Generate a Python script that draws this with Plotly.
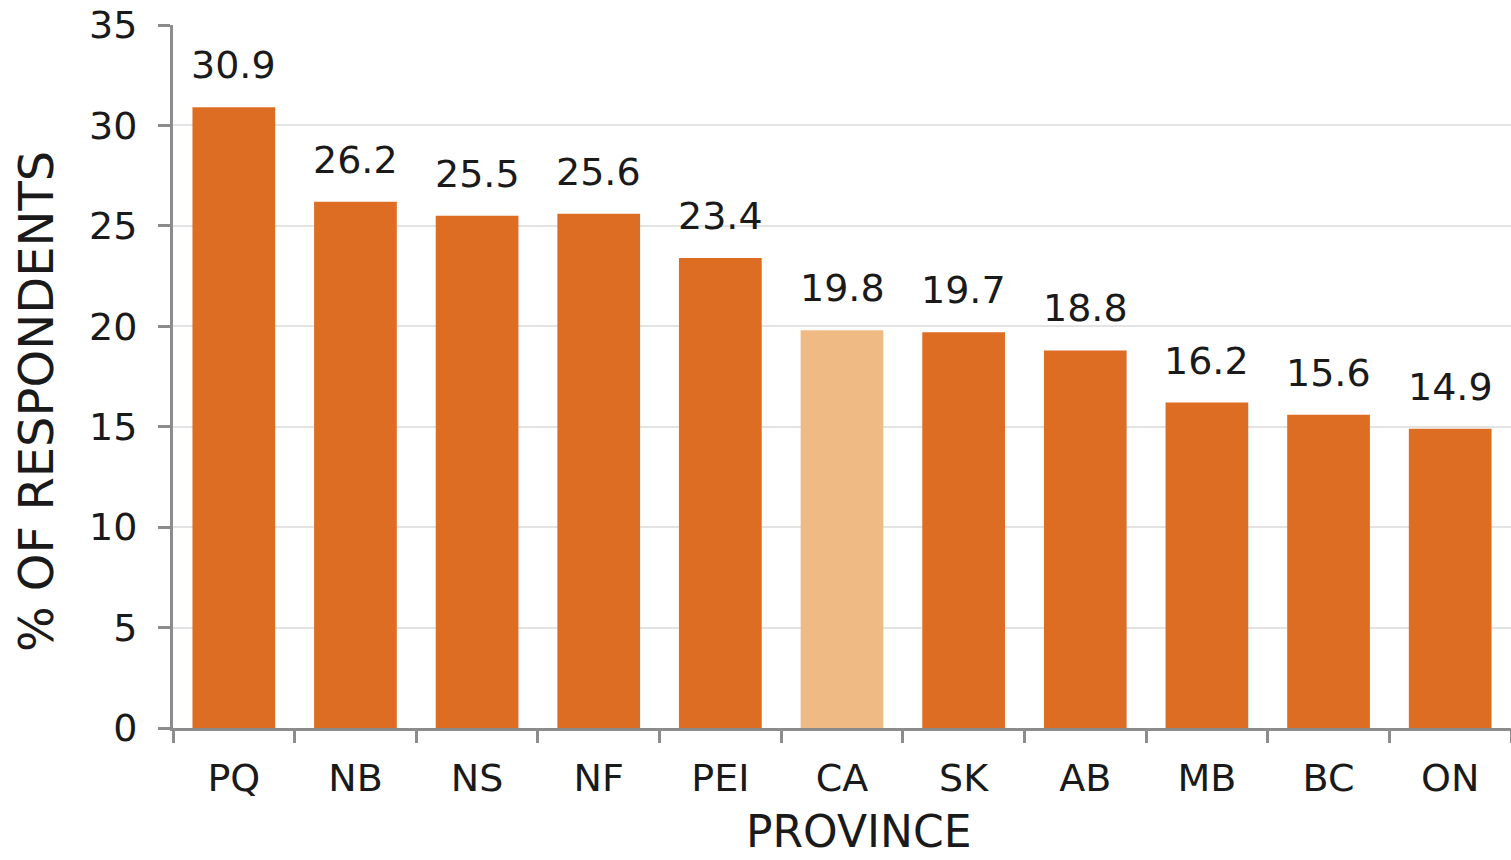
import plotly.graph_objects as go

provinces = ["PQ", "NB", "NS", "NF", "PEI", "CA", "SK", "AB", "MB", "BC", "ON"]
percent = [30.9, 26.2, 25.5, 25.6, 23.4, 19.8, 19.7, 18.8, 16.2, 15.6, 14.9]
y_ticks = [0, 5, 10, 15, 20, 25, 30, 35]

BAR = "#DC6D23"
NATIONAL = "#F0BA84"
TEXT = "#1a1a1a"
AXIS = "#8c8c8c"
FONT = "DejaVu Sans"

colors = [NATIONAL if p == "CA" else BAR for p in provinces]

fig = go.Figure()
fig.add_trace(go.Bar(
    x=provinces, y=percent, marker=dict(color=colors, line=dict(width=0)),
    width=0.68, hoverinfo="x+y",
))

# value labels above each bar
for p, v in zip(provinces, percent):
    fig.add_annotation(
        x=p, y=v, text=f"{v:.1f}", showarrow=False, yanchor="bottom",
        yshift=18, font=dict(family=FONT, size=38, color=TEXT),
    )

# axis titles
fig.add_annotation(
    xref="paper", yref="paper", x=-0.1024, y=0.465, text="% OF RESPONDENTS",
    textangle=-90, showarrow=False, xanchor="center", yanchor="middle",
    font=dict(family=FONT, size=48, color=TEXT),
)
fig.add_annotation(
    xref="paper", yref="paper", x=0.512, y=-0.1863, text="PROVINCE",
    showarrow=False, xanchor="center", yanchor="bottom",
    font=dict(family=FONT, size=44, color=TEXT),
)

fig.update_layout(
    width=1511, height=860,
    margin=dict(l=173, r=0, t=25, b=132),
    paper_bgcolor="white", plot_bgcolor="white",
    showlegend=False,
    font=dict(family=FONT, size=38, color=TEXT),
)
fig.update_xaxes(
    range=[-0.5, 10.5], showline=True, linecolor=AXIS, linewidth=3,
    ticks="outside", tickson="boundaries", ticklen=12, tickwidth=3,
    tickcolor=AXIS, showgrid=False, ticklabelstandoff=14,
    tickfont=dict(family=FONT, size=38, color=TEXT),
)
fig.update_yaxes(
    range=[0, 35], tickvals=y_ticks, showline=True, linecolor=AXIS,
    linewidth=3, ticks="outside", ticklen=12, tickwidth=3, tickcolor=AXIS,
    showgrid=True, gridcolor="#e3e3e3", gridwidth=2, zeroline=False,
    ticklabelstandoff=13, ticklabeloverflow="allow",
    tickfont=dict(family=FONT, size=38, color=TEXT),
)

fig.write_html("out.html")
